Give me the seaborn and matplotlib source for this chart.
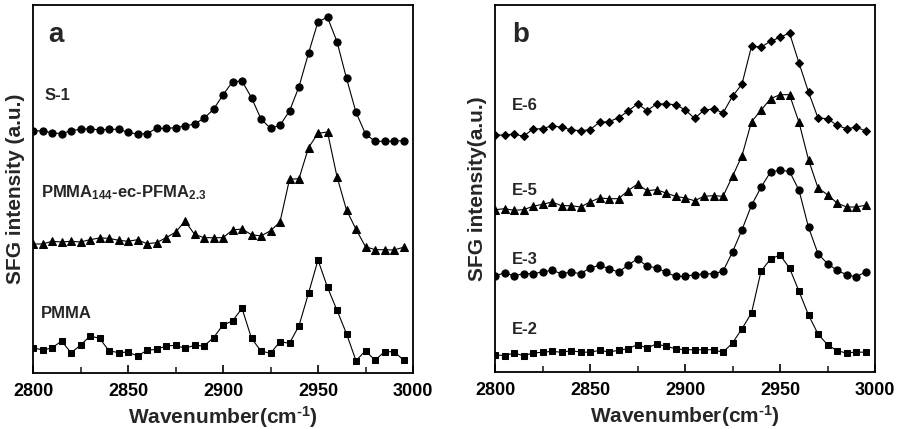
import numpy as np
import pandas as pd
import seaborn as sns
import matplotlib
matplotlib.use("Agg")
import matplotlib.pyplot as plt
from matplotlib.ticker import MultipleLocator

# Wavenumber grid (cm^-1)
wavenumber = list(range(2800, 3000, 5))

# Panel a: SFG spectra (arbitrary units, vertically offset)
s1 = [242.3, 242.0, 240.3, 239.3, 242.3, 243.7, 244.3, 243.0, 243.7, 243.7,
      240.7, 239.0, 239.3, 244.7, 244.7, 245.3, 247.0, 249.0, 254.7, 263.7,
      278.0, 291.3, 292.0, 275.3, 254.0, 244.7, 247.7, 262.0, 286.3, 319.7,
      351.3, 355.7, 331.3, 294.7, 260.7, 239.0, 231.7, 231.7, 232.0, 232.3]
pmma_ec_pfma = [129.0, 129.0, 131.7, 131.0, 131.7, 131.0, 133.3, 135.0, 134.7, 132.7,
                131.7, 133.3, 129.3, 130.3, 135.3, 140.7, 152.0, 138.7, 135.3, 135.3,
                135.3, 143.0, 144.0, 138.3, 137.0, 142.3, 151.0, 193.7, 194.3, 225.3,
                239.7, 241.0, 196.3, 163.0, 143.7, 126.3, 123.3, 123.3, 123.0, 125.7]
pmma = [25.3, 23.0, 25.0, 32.0, 20.3, 27.7, 37.0, 34.7, 22.3, 20.3,
        21.0, 17.0, 22.7, 23.7, 27.0, 27.7, 24.7, 27.7, 27.0, 35.3,
        48.0, 52.0, 64.7, 34.7, 22.0, 19.7, 31.3, 29.7, 47.3, 79.7,
        113.0, 85.7, 62.7, 39.3, 12.3, 22.3, 12.7, 21.3, 21.3, 13.0]

# Panel b: SFG spectra of the E series
e6 = [237.3, 236.7, 238.0, 235.7, 243.0, 243.3, 246.3, 244.7, 242.3, 241.3,
      242.3, 249.7, 250.3, 254.3, 260.7, 268.3, 261.3, 268.0, 268.0, 267.3,
      262.3, 253.7, 261.7, 263.3, 259.0, 275.7, 288.0, 325.7, 325.0, 330.7,
      334.7, 339.0, 309.0, 280.0, 254.0, 253.3, 246.7, 243.3, 244.7, 241.3]
e5 = [162.3, 163.3, 161.7, 162.3, 165.7, 167.7, 170.0, 166.3, 166.3, 165.0,
      170.0, 174.0, 173.3, 173.3, 181.3, 188.0, 181.3, 182.3, 179.0, 175.7,
      174.0, 171.3, 175.7, 176.3, 175.7, 195.7, 216.3, 250.3, 261.7, 273.3,
      277.3, 277.3, 249.7, 212.3, 184.0, 177.3, 169.0, 165.0, 165.0, 166.7]
e3 = [96.3, 99.0, 96.3, 98.3, 98.3, 100.0, 101.7, 98.3, 100.0, 98.3,
      104.0, 106.7, 103.3, 100.0, 106.7, 113.3, 105.7, 104.3, 99.7, 95.7,
      95.7, 97.3, 98.0, 98.3, 100.7, 120.0, 142.3, 166.7, 184.7, 200.0,
      201.7, 200.7, 181.7, 144.7, 118.3, 108.3, 101.7, 97.3, 95.0, 100.0]
e2 = [17.3, 16.3, 19.0, 16.3, 19.0, 19.7, 20.7, 19.7, 21.3, 20.0,
      19.7, 21.7, 20.0, 21.7, 23.3, 27.3, 24.0, 28.0, 25.7, 23.3,
      22.3, 22.3, 22.3, 22.3, 19.7, 29.0, 43.3, 59.0, 100.7, 113.0,
      117.0, 104.0, 80.7, 57.0, 38.0, 27.3, 21.3, 19.0, 20.0, 19.7]

xticks = [2800, 2850, 2900, 2950, 3000]

sns.set_theme(style="white")
plt.rcParams["font.family"] = ["Liberation Sans", "DejaVu Sans"]
plt.rcParams["font.weight"] = "bold"
plt.rcParams["mathtext.fontset"] = "custom"
plt.rcParams["mathtext.rm"] = "Liberation Sans:bold"
plt.rcParams["mathtext.bf"] = "Liberation Sans:bold"
plt.rcParams["mathtext.default"] = "bf"

fig = plt.figure(figsize=(8.99, 4.29), dpi=100)
W, H = 899, 429
ax_a = fig.add_axes([33 / W, 1 - 373 / H, 380 / W, 368 / H])
ax_b = fig.add_axes([495 / W, 1 - 372 / H, 380 / W, 367 / H])

line_kw = dict(color="black", linewidth=0.8, markeredgecolor="black",
               markerfacecolor="black", legend=False)


def draw(ax, y, marker, ms):
    df = pd.DataFrame({"w": wavenumber, "v": y})
    sns.lineplot(data=df, x="w", y="v", ax=ax, marker=marker,
                 markersize=ms, **line_kw)


draw(ax_a, s1, "o", 5.2)
draw(ax_a, pmma_ec_pfma, "^", 5.8)
draw(ax_a, pmma, "s", 4.7)

draw(ax_b, e6, "D", 4.5)
draw(ax_b, e5, "^", 5.8)
draw(ax_b, e3, "o", 5.2)
draw(ax_b, e2, "s", 4.7)

for ax, ylab, top in ((ax_a, "SFG intensity (a.u.)", 368),
                      (ax_b, "SFG intensity(a.u.)", 367)):
    ax.set_xlim(2800, 3000)
    ax.set_ylim(0, top)
    ax.set_xticks(xticks)
    ax.xaxis.set_minor_locator(MultipleLocator(25))
    ax.set_yticks([])
    ax.tick_params(axis="x", which="major", direction="in", length=6,
                   width=1.2, bottom=True, top=False, labelsize=13, pad=7,
                   colors="black")
    ax.tick_params(axis="x", which="minor", direction="in", length=4,
                   width=1.2, bottom=True, top=False)
    for lab in ax.get_xticklabels():
        lab.set_fontweight("bold")
    for sp in ax.spines.values():
        sp.set_color("black")
        sp.set_linewidth(1.3)
    ax.set_xlabel(r"Wavenumber(cm$^{\text{-1}}$)", fontsize=15,
                  fontweight="bold", labelpad=3)
    ax.set_ylabel(ylab, fontsize=15, fontweight="bold", labelpad=6)

# Panel letters
ax_a.text(0.04, 0.955, "a", transform=ax_a.transAxes, fontsize=20,
          fontweight="bold", va="top", ha="left")
ax_b.text(0.045, 0.955, "b", transform=ax_b.transAxes, fontsize=20,
          fontweight="bold", va="top", ha="left")

# Sample labels
ax_a.text(2806, 277, "S-1", fontsize=12, fontweight="bold", va="center")
ax_a.text(2804, 180, "PMMA$_{144}$-ec-PFMA$_{2.3}$", fontsize=12,
          fontweight="bold", va="center")
ax_a.text(2804, 60, "PMMA", fontsize=12, fontweight="bold", va="center")

ax_b.text(2809, 267, "E-6", fontsize=12, fontweight="bold", va="center")
ax_b.text(2809, 181, "E-5", fontsize=12, fontweight="bold", va="center")
ax_b.text(2809, 113, "E-3", fontsize=12, fontweight="bold", va="center")
ax_b.text(2809, 42, "E-2", fontsize=12, fontweight="bold", va="center")

fig.savefig("out.png", dpi=100, facecolor="white")
